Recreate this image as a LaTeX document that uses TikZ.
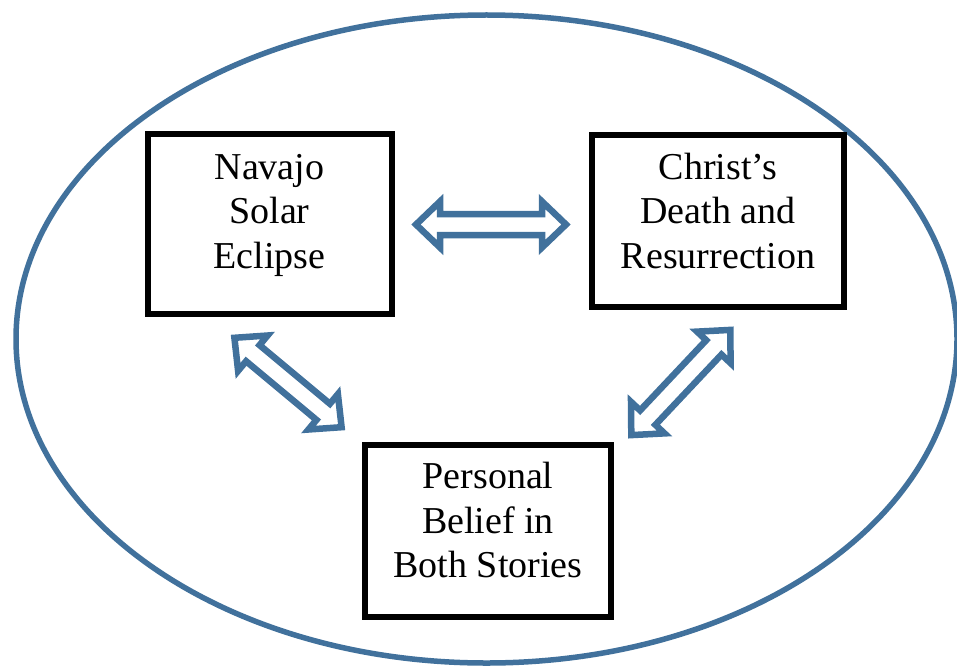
\documentclass[tikz,border=0pt]{standalone}
\usepackage{fontspec}
\setmainfont{Liberation Serif}
\usetikzlibrary{calc}
\definecolor{ringblue}{HTML}{41719C}
\tikzset{
  box/.style={draw=black, line width=6pt, fill=white, inner sep=0pt},
  txt/.style={align=center, font=\fontsize{38}{44.5}\selectfont, inner sep=0pt},
  harrow/.style={draw=ringblue, line width=6.5pt, line join=miter, fill=white},
  ring/.style={draw=ringblue, line width=5.5pt}
}
\newcommand{\hollowarrow}[2]{%
  \draw[harrow] (#1)
    -- ($(#1)!24pt!(#2)!23pt!90:(#2)$)
    -- ($(#1)!24pt!(#2)!10.5pt!90:(#2)$)
    -- ($(#2)!24pt!(#1)!10.5pt!-90:(#1)$)
    -- ($(#2)!24pt!(#1)!23pt!-90:(#1)$)
    -- (#2)
    -- ($(#2)!24pt!(#1)!23pt!90:(#1)$)
    -- ($(#2)!24pt!(#1)!10.5pt!90:(#1)$)
    -- ($(#1)!24pt!(#2)!10.5pt!-90:(#2)$)
    -- ($(#1)!24pt!(#2)!23pt!-90:(#2)$)
    -- cycle;}
\begin{document}
\begin{tikzpicture}[x=1pt,y=-1pt]
\useasboundingbox (0,0) rectangle (957,666);
% outer ellipse
\draw[ring] (486.5,339) ellipse [x radius=470.5, y radius=324];
% boxes
\node[box, minimum width=244pt, minimum height=180pt] (nav) at (269.5,224) {};
\node[txt] (navt) at ([yshift=9pt]nav.center) {Navajo\\Solar\\Eclipse};
\node[box, minimum width=252pt, minimum height=172pt] (chr) at (718,221) {};
\node[txt] (chrt) at ([yshift=10pt]chr.center) {Christ’s\\Death and\\Resurrection};
\node[box, minimum width=246pt, minimum height=172pt] (per) at (488,531) {};
\node[txt] (pert) at ([yshift=11pt]per.center) {Personal\\Belief in\\Both Stories};
% arrow end points
\coordinate (h1) at (416,224.5);
\coordinate (h2) at (566,224.5);
\coordinate (l1) at (234.4,337.8);
\coordinate (l2) at (341.6,427.2);
\coordinate (r1) at (730.3,329.9);
\coordinate (r2) at (631.3,435.1);
\hollowarrow{h1}{h2}
\hollowarrow{l1}{l2}
\hollowarrow{r1}{r2}
\end{tikzpicture}
\end{document}
